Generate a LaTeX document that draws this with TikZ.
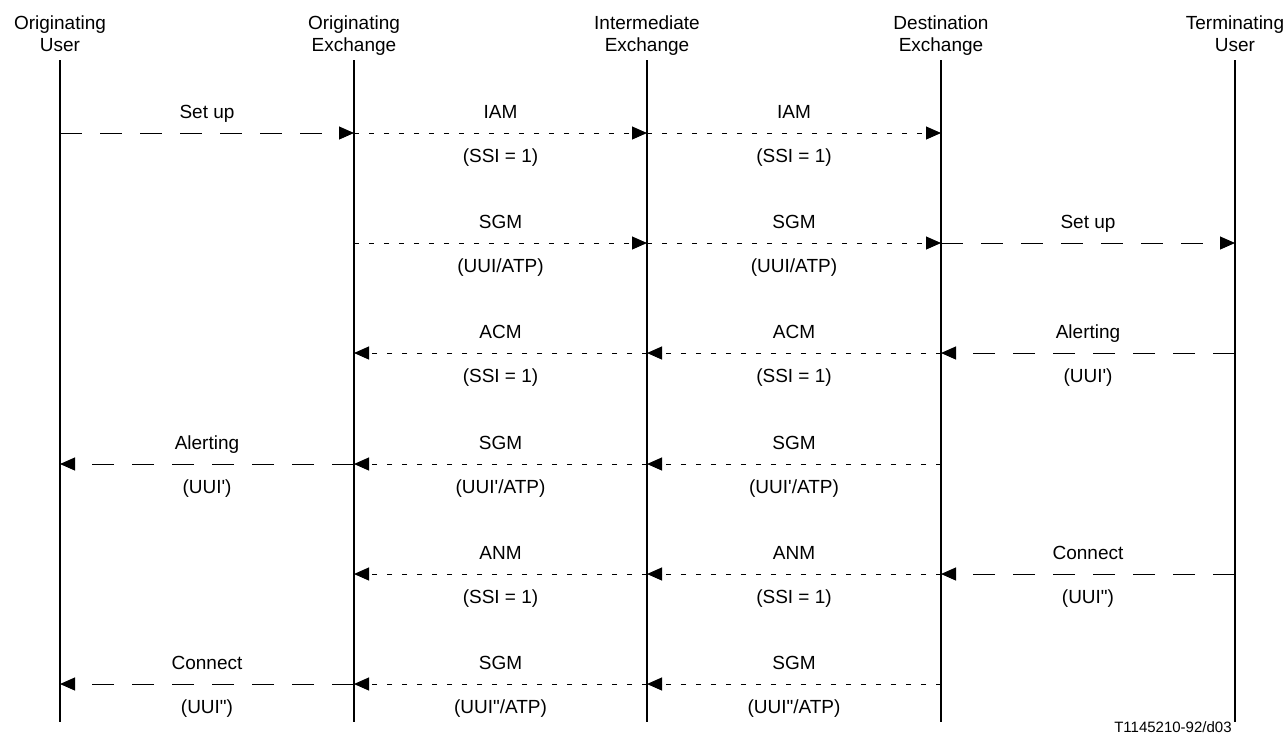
\documentclass[tikz,border=0pt]{standalone}
\usepackage{fontspec}
\setmainfont{Liberation Sans}
\usepackage{tikz}
\usetikzlibrary{arrows.meta, positioning, calc}
\tikzstyle{party} = [align=center, anchor=north, inner sep=0pt, font=\fontsize{9.5}{11}\selectfont]
\tikzstyle{lifeline} = [line width=1pt]
\tikzstyle{usermsg} = [line width=0.5pt, dash pattern=on 11pt off 9pt, -{Triangle[length=7.5pt,width=6.5pt]}]
\tikzstyle{exchmsg} = [line width=0.5pt, dash pattern=on 2.5pt off 5pt, -{Triangle[length=7.5pt,width=6.5pt]}]
\tikzstyle{toplabel} = [anchor=base, inner sep=0pt, yshift=7.5pt, font=\fontsize{9.5}{11}\selectfont]
\tikzstyle{botlabel} = [anchor=base, inner sep=0pt, yshift=-14.5pt, font=\fontsize{9.5}{11}\selectfont]

\begin{document}
\begin{tikzpicture}[x=0.5pt, y=-0.5pt]
    \useasboundingbox (0,0) rectangle (1286,736);

    % Parties
    \node (ou) [party] at (60,15) {Originating\\User};
    \node (oe) [party] at (354,15) {Originating\\Exchange};
    \node (ie) [party] at (647,15) {Intermediate\\Exchange};
    \node (de) [party] at (941,15) {Destination\\Exchange};
    \node (tu) [party] at (1235,15) {Terminating\\User};

    % Lifelines
    \coordinate (ou-top) at (60,60);   \coordinate (ou-bot) at (60,722);
    \coordinate (oe-top) at (354,60);  \coordinate (oe-bot) at (354,722);
    \coordinate (ie-top) at (647,60);  \coordinate (ie-bot) at (647,722);
    \coordinate (de-top) at (941,60);  \coordinate (de-bot) at (941,722);
    \coordinate (tu-top) at (1235,60); \coordinate (tu-bot) at (1235,722);
    \draw [lifeline] (ou-top) -- (ou-bot);
    \draw [lifeline] (oe-top) -- (oe-bot);
    \draw [lifeline] (ie-top) -- (ie-bot);
    \draw [lifeline] (de-top) -- (de-bot);
    \draw [lifeline] (tu-top) -- (tu-bot);

    % Message rows
    \coordinate (r1) at (0,133);
    \coordinate (r2) at (0,243);
    \coordinate (r3) at (0,353);
    \coordinate (r4) at (0,464);
    \coordinate (r5) at (0,574);
    \coordinate (r6) at (0,684);

    % Set up / IAM
    \draw [usermsg] (ou-top |- r1) -- node[toplabel, midway] {Set up} (oe-top |- r1);
    \draw [exchmsg] (oe-top |- r1) -- node[toplabel, midway] {IAM} node[botlabel, midway] {(SSI = 1)} (ie-top |- r1);
    \draw [exchmsg] (ie-top |- r1) -- node[toplabel, midway] {IAM} node[botlabel, midway] {(SSI = 1)} (de-top |- r1);

    % SGM / Set up
    \draw [exchmsg] (oe-top |- r2) -- node[toplabel, midway] {SGM} node[botlabel, midway] {(UUI/ATP)} (ie-top |- r2);
    \draw [exchmsg] (ie-top |- r2) -- node[toplabel, midway] {SGM} node[botlabel, midway] {(UUI/ATP)} (de-top |- r2);
    \draw [usermsg] (de-top |- r2) -- node[toplabel, midway] {Set up} (tu-top |- r2);

    % Alerting / ACM
    \draw [usermsg] (tu-top |- r3) -- node[toplabel, midway] {Alerting} node[botlabel, midway] {(UUI\textquotesingle)} (de-top |- r3);
    \draw [exchmsg] (de-top |- r3) -- node[toplabel, midway] {ACM} node[botlabel, midway] {(SSI = 1)} (ie-top |- r3);
    \draw [exchmsg] (ie-top |- r3) -- node[toplabel, midway] {ACM} node[botlabel, midway] {(SSI = 1)} (oe-top |- r3);

    % SGM / Alerting
    \draw [exchmsg] (de-top |- r4) -- node[toplabel, midway] {SGM} node[botlabel, midway] {(UUI\textquotesingle/ATP)} (ie-top |- r4);
    \draw [exchmsg] (ie-top |- r4) -- node[toplabel, midway] {SGM} node[botlabel, midway] {(UUI\textquotesingle/ATP)} (oe-top |- r4);
    \draw [usermsg] (oe-top |- r4) -- node[toplabel, midway] {Alerting} node[botlabel, midway] {(UUI\textquotesingle)} (ou-top |- r4);

    % Connect / ANM
    \draw [usermsg] (tu-top |- r5) -- node[toplabel, midway] {Connect} node[botlabel, midway] {(UUI\textquotedbl)} (de-top |- r5);
    \draw [exchmsg] (de-top |- r5) -- node[toplabel, midway] {ANM} node[botlabel, midway] {(SSI = 1)} (ie-top |- r5);
    \draw [exchmsg] (ie-top |- r5) -- node[toplabel, midway] {ANM} node[botlabel, midway] {(SSI = 1)} (oe-top |- r5);

    % SGM / Connect
    \draw [exchmsg] (de-top |- r6) -- node[toplabel, midway] {SGM} node[botlabel, midway] {(UUI\textquotedbl/ATP)} (ie-top |- r6);
    \draw [exchmsg] (ie-top |- r6) -- node[toplabel, midway] {SGM} node[botlabel, midway] {(UUI\textquotedbl/ATP)} (oe-top |- r6);
    \draw [usermsg] (oe-top |- r6) -- node[toplabel, midway] {Connect} node[botlabel, midway] {(UUI\textquotedbl)} (ou-top |- r6);

    % Figure code
    \node (code) [anchor=base east, inner sep=0pt, font=\fontsize{7.5}{9}\selectfont] at (1232,732) {T1145210-92/d03};
\end{tikzpicture}
\end{document}
